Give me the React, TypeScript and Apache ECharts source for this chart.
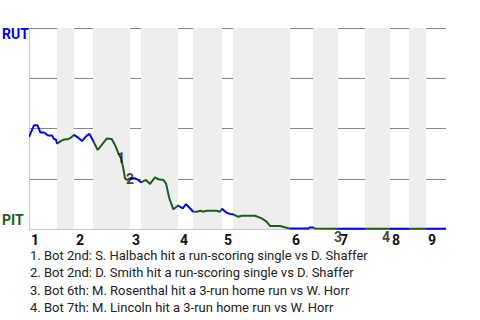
import React, { useEffect, useRef } from "react";
import * as echarts from "echarts";

// play index (game progress) and RUT win probability
const playIndex = [
  0, 5, 8.5, 11.5, 15, 19, 23, 25, 27, 28, 32.5, 35, 38.5, 42, 45, 49.5, 53, 57.5, 60.5, 64,
  68.7, 77.7, 82.7, 86, 89.3, 92, 94.3, 96, 98, 101, 106, 109.3, 112, 117, 121, 126, 129.3,
  134.3, 137, 140.3, 144.3, 147.7, 149, 153.7, 157, 161, 164, 167.7, 171.7, 173.7, 177.7,
  187.7, 191, 193, 197.7, 201, 204, 209.3, 212.7, 226, 232.7, 237.7, 241, 251, 259.3, 261,
  279, 281, 284, 286, 307, 336, 361, 380, 397, 417,
];
const rutWinProb = [
  0.458, 0.516, 0.516, 0.48, 0.48, 0.465, 0.465, 0.448, 0.445, 0.425, 0.44, 0.445, 0.446,
  0.455, 0.468, 0.453, 0.438, 0.463, 0.473, 0.44, 0.393, 0.45, 0.448, 0.418, 0.377, 0.352,
  0.302, 0.252, 0.244, 0.252, 0.252, 0.244, 0.232, 0.244, 0.224, 0.257, 0.247, 0.244, 0.227,
  0.153, 0.098, 0.111, 0.117, 0.103, 0.124, 0.103, 0.087, 0.086, 0.091, 0.086, 0.091, 0.091,
  0.086, 0.1, 0.081, 0.075, 0.073, 0.061, 0.066, 0.066, 0.053, 0.036, 0.015, 0.015, 0.004,
  0.002, 0.002, 0.008, 0.008, 0.002, 0.001, 0.001, 0.001, 0.001, 0.001, 0.001,
];

// half-inning boundaries (top 1st, bot 1st, top 2nd, ...)
const halfInningStarts = [0, 28, 45, 64, 101, 112, 149, 164, 193, 204, 261, 284, 309, 336, 361, 380, 397];
const gameEnd = 417;
const inningLabels = ["1", "2", "3", "4", "5", "6", "7", "8", "9"];

// key events
const eventX = [92, 98, 307, 357];
const eventY = [0.352, 0.244, 0.001, 0.001];
const eventNames = ["1", "2", "3", "4"];
const eventTexts = [
  "1. Bot 2nd: S. Halbach hit a run-scoring single vs D. Shaffer",
  "2. Bot 2nd: D. Smith hit a run-scoring single vs D. Shaffer",
  "3. Bot 6th: M. Rosenthal hit a 3-run home run vs W. Horr",
  "4. Bot 7th: M. Lincoln hit a 3-run home run vs W. Horr",
];

const teamTop = "RUT";
const teamBottom = "PIT";
const BLUE = "#0000ff";
const GREEN = "#1a5e1a";

export default function App() {
  const ref = useRef<HTMLDivElement>(null);
  useEffect(() => {
    document.body.style.margin = "0";
    if (!ref.current) return;
    const chart = echarts.init(ref.current, null, { renderer: "svg" });

    const ends = halfInningStarts.slice(1).concat([gameEnd]);
    const pieces = halfInningStarts.map((s, i) => ({
      gte: s,
      lt: i === halfInningStarts.length - 1 ? gameEnd + 1 : ends[i],
      color: i % 2 === 0 ? BLUE : GREEN,
    }));
    const bands = halfInningStarts
      .map((s, i) => (i % 2 === 1 ? [{ xAxis: s }, { xAxis: ends[i] }] : null))
      .filter(Boolean);
    const inningStarts = halfInningStarts.filter((_, i) => i % 2 === 0);
    const eventOffsets = [[0, 0], [3, -1], [2, 8], [0, 8]];

    chart.setOption({
      animation: false,
      grid: { left: 29, right: 34, top: 28, height: 201 },
      xAxis: {
        type: "value",
        min: 0,
        max: gameEnd,
        splitLine: { show: false },
        axisTick: { show: false },
        axisLine: { show: true, lineStyle: { color: "#c8c8c8", width: 1 } },
        axisLabel: {
          customValues: inningStarts,
          formatter: (v: number) => inningLabels[inningStarts.indexOf(v)] ?? "",
          align: "left",
          padding: [0, 0, 0, 2],
          margin: 4,
          lineHeight: 13,
          fontFamily: "Roboto",
          fontWeight: "bold",
          fontSize: 14,
          color: "#111",
        },
      },
      yAxis: {
        type: "value",
        min: 0,
        max: 1,
        interval: 0.25,
        axisLabel: { show: false },
        axisTick: { show: false },
        axisLine: { show: true, lineStyle: { color: "#c8c8c8", width: 1 } },
        splitLine: { show: true, lineStyle: { color: "#888", width: 1 } },
      },
      visualMap: {
        show: false,
        type: "piecewise",
        dimension: 0,
        seriesIndex: 0,
        pieces,
      },
      series: [
        {
          type: "line",
          data: playIndex.map((x, i) => [x, rutWinProb[i]]),
          symbol: "none",
          lineStyle: { width: 2 },
          z: 3,
          markArea: {
            silent: true,
            itemStyle: { color: "#eeeeee" },
            data: bands,
          },
        },
        {
          type: "scatter",
          symbolSize: 0,
          z: 5,
          data: eventX.map((x, i) => ({
            value: [x, eventY[i]],
            label: { offset: eventOffsets[i] },
          })),
          label: {
            show: true,
            position: "inside",
            formatter: (p: any) => eventNames[p.dataIndex],
            fontFamily: "Roboto",
            fontWeight: "bold",
            fontSize: 14,
            color: "#111",
            textBorderWidth: 0,
          },
        },
      ],
      graphic: [
        {
          type: "text",
          left: 2,
          top: 27,
          style: { text: teamTop, fill: "#0000ee", font: "bold 14px Roboto" },
        },
        {
          type: "text",
          left: 2,
          top: 213,
          style: { text: teamBottom, fill: GREEN, font: "bold 14px Roboto" },
        },
        ...eventTexts.map((t, i) => ({
          type: "text",
          left: 30,
          top: 248 + i * 17.3,
          style: { text: t, fill: "#222", font: "13px Roboto", lineHeight: 15 },
        })),
      ],
    });
    return () => chart.dispose();
  }, []);
  return <div ref={ref} style={{ width: 480, height: 320 }} />;
}
